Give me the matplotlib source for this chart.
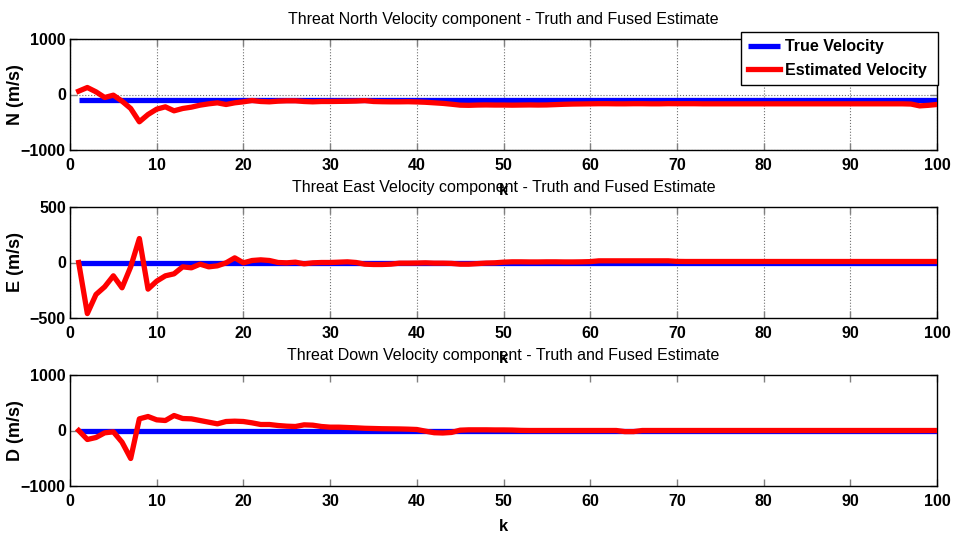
import matplotlib
matplotlib.use("Agg")
import matplotlib.pyplot as plt
import numpy as np

plt.rcParams['font.family'] = ['Liberation Sans', 'DejaVu Sans']

k = np.arange(1, 101)

true_N = -96
true_E = -5
true_D = 0

est_N = [60, 126, 48, -54, -12, -120, -252, -492, -360, -264,
         -222, -294, -252, -228, -192, -168, -150, -180, -150, -132,
         -108, -126, -132, -120, -114, -114, -126, -132, -126, -126,
         -124, -122, -118, -110, -126, -130, -132, -132, -130, -134,
         -140, -150, -160, -175, -192, -195, -190, -188, -190, -190,
         -192, -190, -188, -190, -188, -182, -176, -172, -170, -168,
         -166, -166, -168, -168, -166, -166, -168, -168, -165, -166,
         -166, -166, -168, -168, -168, -168, -168, -168, -168, -168,
         -168, -168, -168, -168, -168, -168, -168, -168, -168, -168,
         -168, -168, -168, -168, -168, -168, -172, -205, -195, -180]

est_E = [0, -460, -288, -219, -120, -228, -39, 216, -240, -168,
         -120, -102, -39, -48, -15, -39, -30, -3, 42, -3,
         18, 24, 18, 0, -3, 3, -12, -3, 0, 0,
         3, 6, 0, -15, -18, -18, -15, -6, -6, -5,
         -3, -6, -6, -8, -15, -15, -10, -5, -3, 3,
         6, 6, 5, 5, 6, 6, 5, 5, 6, 8,
         15, 15, 15, 15, 15, 15, 15, 15, 15, 10,
         9, 9, 9, 9, 9, 9, 9, 9, 9, 9,
         9, 9, 9, 9, 9, 9, 9, 9, 9, 9,
         9, 9, 9, 9, 9, 9, 9, 9, 9, 9]

est_D = [0, -162, -126, -42, -24, -210, -504, 210, 252, 192,
         180, 270, 216, 210, 180, 150, 120, 162, 168, 162,
         138, 108, 108, 90, 78, 72, 102, 96, 72, 60,
         60, 54, 48, 40, 36, 32, 30, 28, 24, 18,
         -12, -40, -45, -35, 6, 12, 12, 12, 10, 10,
         8, 2, 0, 0, 0, 0, 0, 0, 0, 0,
         0, 0, 0, -20, -20, 0, 0, 0, 0, 0,
         0, 0, 0, 0, 0, 0, 0, 0, 0, 0,
         0, 0, 0, 0, 0, 0, 0, 0, 0, 0,
         0, 0, 0, 0, 0, 0, 0, 0, 0, 0]

titles = ["Threat North Velocity component - Truth and Fused Estimate",
          "Threat East Velocity component - Truth and Fused Estimate",
          "Threat Down Velocity component - Truth and Fused Estimate"]
ylabels = ["N (m/s)", "E (m/s)", "D (m/s)"]
ylims = [(-1000, 1000), (-500, 500), (-1000, 1000)]
yticks = [[-1000, 0, 1000], [-500, 0, 500], [-1000, 0, 1000]]
xticks = [0, 10, 20, 30, 40, 50, 60, 70, 80, 90, 100]

W, H = 955, 533
fig = plt.figure(figsize=(W / 100, H / 100), dpi=100)
fig.patch.set_facecolor('white')

left, right = 70 / W, 937 / W
rows = [(39, 150), (207, 318), (375, 486)]
trues = [true_N, true_E, true_D]
ests = [est_N, est_E, est_D]
grids = ['both', 'x', None]

axes = []
for i, (top, bot) in enumerate(rows):
    ax = fig.add_axes([left, 1 - bot / H, right - left, (bot - top) / H])
    axes.append(ax)
    lb, = ax.plot([k[0], k[-1]], [trues[i], trues[i]], color=(0, 0, 1), lw=3.8,
                  solid_capstyle='butt', zorder=3, label='True Velocity')
    lr, = ax.plot(k, ests[i], color=(1, 0, 0), lw=3.8, zorder=4,
                  label='Estimated Velocity')
    ax.set_xlim(0, 100)
    ax.set_ylim(*ylims[i])
    ax.set_xticks(xticks)
    ax.set_yticks(yticks[i])
    ax.tick_params(direction='in', length=5, width=1, color='#808080',
                   top=True, right=True, labelsize=11.5)
    ax.tick_params(axis='x', pad=6)
    ax.tick_params(axis='y', pad=3)
    for lab in ax.get_xticklabels() + ax.get_yticklabels():
        lab.set_fontweight('bold')
    for s in ax.spines.values():
        s.set_color('black')
        s.set_linewidth(1.0)
    if grids[i] == 'both':
        ax.grid(True, axis='both', linestyle=':', color='#707070', lw=0.8)
    elif grids[i] == 'x':
        ax.grid(True, axis='x', linestyle=':', color='#707070', lw=0.8)
    ax.set_title(titles[i], fontsize=11.5, pad=11)
    ax.set_xlabel('k', fontsize=12, fontweight='bold', labelpad=7)
    fig.text(16 / W, 1 - (top + bot) / 2 / H, ylabels[i], rotation=90,
             ha='center', va='center', fontsize=13, fontweight='bold')

leg = axes[0].legend(handles=[lb, lr], loc='upper left',
                     bbox_to_anchor=(741 / W, 1 - 88 / H, 197 / W, 56 / H),
                     bbox_transform=fig.transFigure, mode='expand',
                     borderaxespad=0, fancybox=False,
                     framealpha=1, edgecolor='black', fontsize=11.5,
                     handlelength=2.0, borderpad=0.45, labelspacing=0.55,
                     handletextpad=0.3)
leg.set_zorder(10)
leg.get_frame().set_linewidth(1.0)
for t in leg.get_texts():
    t.set_fontweight('bold')

fig.savefig('out.png', dpi=100, facecolor='white')
